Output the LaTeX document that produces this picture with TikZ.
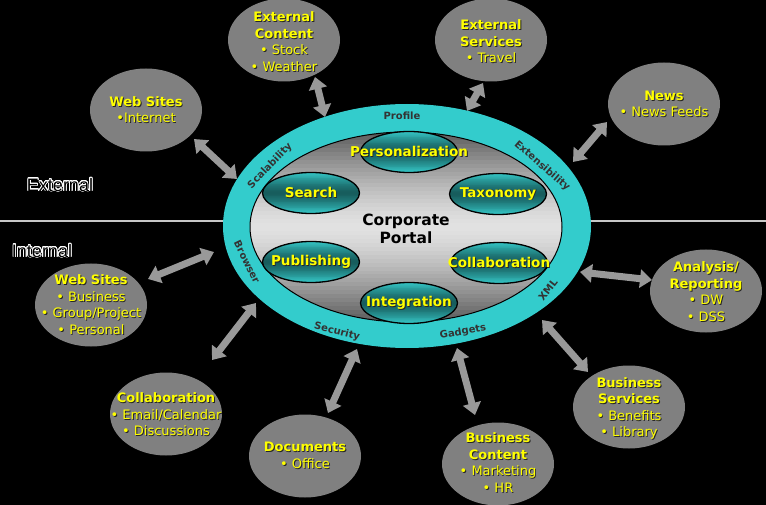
\documentclass[tikz,border=0pt]{standalone}
\usepackage{fontspec}
\setmainfont{DejaVu Sans}
\newfontfamily\arialf{Liberation Sans}
\usepackage{contour}
\contourlength{0.6pt}
\contournumber{24}
\usetikzlibrary{arrows.meta,shapes.geometric}
\definecolor{ringc}{HTML}{33CCCC}
\definecolor{yel}{HTML}{FFFF00}
\definecolor{outg}{HTML}{808080}
\definecolor{arrg}{HTML}{999999}
\definecolor{tealdk}{HTML}{175C5C}
\definecolor{teallt}{HTML}{36CACA}
\definecolor{coredk}{HTML}{5A5A5A}
\definecolor{corelt}{HTML}{E2E2E2}
\newcommand\shd[1]{\leavevmode\rlap{\kern0.9pt\raisebox{-0.9pt}{\textcolor{black!85}{#1}}}#1}
\newcommand\ttl[1]{\shd{\textbf{#1}}}
% vertical band gradient inside an ellipse: cx, cy, rx, ry, edge colour, middle colour
\newcommand\gradell[6]{%
  \begin{scope}
  \clip (#1,#2) ellipse ({#3} and {#4});
  \foreach \k in {0,...,47} {
    \pgfmathsetmacro\tt{abs(\k+0.5-24)/24}
    \pgfmathsetmacro\pp{100*(1-\tt^1.4)}
    \fill[#6!\pp!#5] ({#1-#3},{#2-#4+\k*2*#4/48}) rectangle ++({2*#3},{2*#4/48+0.7});
  }
  \end{scope}}
\begin{document}
\begin{tikzpicture}[x=1pt,y=-1pt,
  hline/.style={draw=black!22,line width=2pt},
  ringshape/.style={ellipse,fill=ringc,minimum width=368pt,minimum height=244pt,inner sep=0},
  core/.style={ellipse,draw=black,line width=1pt,minimum width=312pt,minimum height=190pt,inner sep=0},
  module/.style={ellipse,draw=black,line width=1.3pt,minimum width=97pt,minimum height=41pt,inner sep=0},
  mtext/.style={text=yel,font=\bfseries\fontsize{13.5}{15}\selectfont,inner sep=0},
  ringlab/.style={text=black!80,font=\bfseries\fontsize{10}{12}\selectfont,inner sep=0},
  outer/.style={ellipse,fill=outg,minimum width=112pt,minimum height=83pt,inner sep=0},
  otext/.style={text=yel,align=center,font=\fontsize{13}{16.5}\selectfont,inner sep=0},
  arr/.style={draw=arrg,line width=7pt,{Triangle[width=18pt,length=12pt]}-{Triangle[width=18pt,length=12pt]}},
  side/.style={font=\arialf\fontsize{18}{20}\selectfont,text=black,inner sep=0}
]
\fill[black] (0,0) rectangle (766,505);
\useasboundingbox (0,0) rectangle (766,505);

% divider
\coordinate (hl) at (0,221);
\coordinate (hr) at (766,221);
\draw[hline] (hl) -- (hr);
\node[side] (ext) at (60,185) {\contour{white}{External}};
\node[side] (int) at (42,251) {\contour{white}{Internal}};

% outer ellipses
\node[outer] (wsext) at (146,110) {};
\node[otext] at (wsext) {\ttl{Web Sites}\\\shd{•Internet}};
\node[outer] (econt) at (284,40) {};
\node[otext] at (284,42) {\ttl{External}\\\ttl{Content}\\\shd{• Stock}\\\shd{• Weather}};
\node[outer] (eserv) at (491,40) {};
\node[otext] at (491,42) {\ttl{External}\\\ttl{Services}\\\shd{• Travel}};
\node[outer] (news) at (664,104) {};
\node[otext] at (664,104.5) {\ttl{News}\\\shd{• News Feeds}};
\node[outer] (anal) at (706,291) {};
\node[otext] at (706,292) {\ttl{Analysis/}\\\ttl{Reporting}\\\shd{• DW}\\\shd{• DSS}};
\node[outer] (bserv) at (629,407) {};
\node[otext] at (629,409) {\ttl{Business}\\\ttl{Services}\\\shd{• Benefits}\\\shd{• Library}};
\node[outer] (bcont) at (498,464) {};
\node[otext] at (498,463) {\ttl{Business}\\\ttl{Content}\\\shd{• Marketing}\\\shd{• HR}};
\node[outer] (docs) at (305,456) {};
\node[otext] at (305,456) {\ttl{Documents}\\\shd{• Office}};
\node[outer] (collab) at (166,414) {};
\node[otext] at (166,415) {\ttl{Collaboration}\\\shd{• Email/Calendar}\\\shd{• Discussions}};
\node[outer] (wsint) at (91,305) {};
\node[otext] at (91,305) {\ttl{Web Sites}\\\shd{• Business}\\\shd{• Group/Project}\\\shd{• Personal}};

% arrows
\coordinate (a1s) at (194,139);  \coordinate (a1e) at (237,179);
\coordinate (a2s) at (315,77);   \coordinate (a2e) at (325,117);
\coordinate (a3s) at (483,83);   \coordinate (a3e) at (467,111);
\coordinate (a4s) at (607,122);  \coordinate (a4e) at (573,162);
\coordinate (a5s) at (580,272);  \coordinate (a5e) at (652,280);
\coordinate (a6s) at (542,320);  \coordinate (a6e) at (588,372);
\coordinate (a7s) at (457,348);  \coordinate (a7e) at (475,415);
\coordinate (a8s) at (357,349);  \coordinate (a8e) at (328,413);
\coordinate (a9s) at (256,303);  \coordinate (a9e) at (212,360);
\coordinate (a10s) at (148,279); \coordinate (a10e) at (214,252);
\foreach \i in {1,...,10} {\draw[arr] (a\i s) -- (a\i e);}

% central portal
\node[ringshape] (ring) at (407,226) {};
\gradell{406}{227}{156}{95}{coredk}{corelt}
\node[core] (core) at (406,227) {};
\node[font=\bfseries\fontsize{15.5}{17.5}\selectfont,align=center,inner sep=0] (cp) at (406,229) {Corporate\\Portal};

\gradell{409}{152}{48.5}{20.5}{teallt}{tealdk}
\node[module] (pers) at (409,152) {};
\node[mtext] at (pers) {\shd{Personalization}};
\gradell{311}{193}{48.5}{20.5}{teallt}{tealdk}
\node[module] (srch) at (311,193) {};
\node[mtext] at (srch) {\shd{Search}};
\gradell{498}{194}{48.5}{20.5}{teallt}{tealdk}
\node[module] (taxo) at (498,194) {};
\node[mtext] at (taxo) {\shd{Taxonomy}};
\gradell{311}{262}{48.5}{20.5}{teallt}{tealdk}
\node[module] (publ) at (311,262) {};
\node[mtext] at (publ) {\shd{Publishing}};
\gradell{499}{263}{48.5}{20.5}{teallt}{tealdk}
\node[module] (coll) at (499,263) {};
\node[mtext] at (coll) {\shd{Collaboration}};
\gradell{409}{303}{48.5}{20.5}{teallt}{tealdk}
\node[module] (intg) at (409,303) {};
\node[mtext] at (intg) {\shd{Integration}};

% ring labels
\node[ringlab] at (402,116) {Profile};
\node[ringlab,rotate=46] at (270,166) {Scalability};
\node[ringlab,rotate=-41] at (542,166) {Extensibility};
\node[ringlab,rotate=-64] at (247,262) {Browser};
\node[ringlab,rotate=52] at (548,290) {XML};
\node[ringlab,rotate=-14] at (337,332) {Security};
\node[ringlab,rotate=10] at (463,332) {Gadgets};
\end{tikzpicture}
\end{document}
